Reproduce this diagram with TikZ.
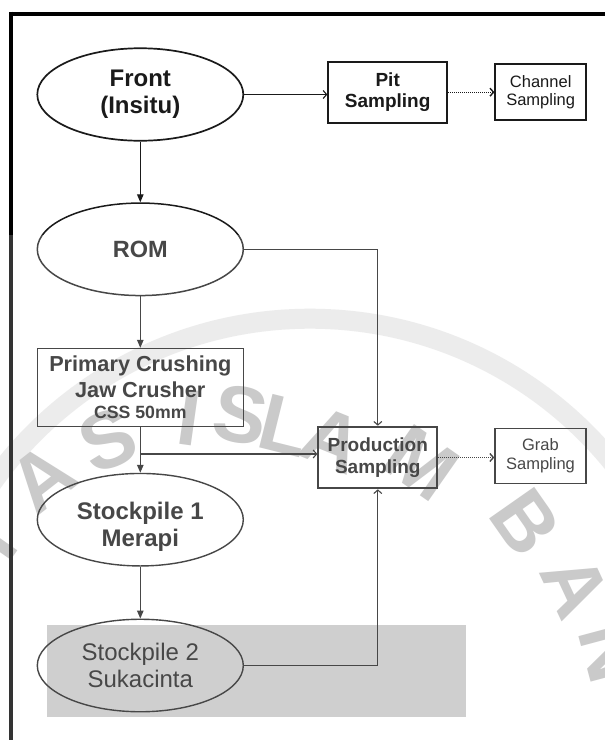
\documentclass[tikz,border=0pt]{standalone}
\usepackage{fontspec}
\setmainfont{Liberation Sans}
\usetikzlibrary{shapes.geometric,arrows.meta}
\definecolor{ink}{HTML}{1A1A1A}
\definecolor{wm}{HTML}{BDBDBD}
\definecolor{wmband}{HTML}{E8E8E8}
\definecolor{panel}{HTML}{C4C4C4}
\begin{document}
\begin{tikzpicture}[x=1pt,y=-1pt,
  oval/.style={ellipse, draw=ink, line width=1.5pt, minimum width=206pt, minimum height=92.5pt, inner sep=0pt, align=center, text=ink},
  box/.style={rectangle, draw=ink, line width=1.6pt, inner sep=0pt, align=center, text=ink},
  bigb/.style={font=\bfseries\fontsize{24}{27}\selectfont},
  midb/.style={font=\bfseries\fontsize{19}{21.7}\selectfont},
  smallr/.style={font=\fontsize{16.5}{18.7}\selectfont},
  flow/.style={draw=ink, line width=1.2pt, -{Triangle[length=8pt,width=6.5pt]}},
  feed/.style={draw=ink, line width=1.1pt, -{Straight Barb[length=3.5pt,width=8pt]}},
  dots/.style={draw=ink, line width=1.4pt, dash pattern=on 1pt off 1pt, -{Straight Barb[length=3.5pt,width=8pt]}},
  wmark/.style={text=wm, font=\bfseries\fontsize{80}{80}\selectfont, inner sep=0pt}
]
\fill[white] (0,0) rectangle (605,740);
\useasboundingbox (0,0) rectangle (605,740);

% watermark
\begin{scope}
\clip (0,0) rectangle (605,740);
\draw[wmband, line width=20pt] (310,708.7) circle[radius=390pt];
\node[wmark, rotate=55] (wt) at (-8,540) {T};
\node[wmark, rotate=38] (wa1) at (42,478) {A};
\node[wmark, rotate=22] (ws1) at (108,440) {S};
\node[wmark, rotate=-8] (wi) at (189,418) {I};
\node[wmark, rotate=-10] (ws2) at (241,415) {S};
\node[wmark, rotate=-14] (wl) at (285,426) {L};
\node[wmark, rotate=-22] (wa2) at (333,440) {A};
\node[wmark, rotate=-35] (wmm) at (422,463) {M};
\node[wmark, rotate=-55] (wb) at (526,522) {B};
\node[wmark, rotate=-65] (wa3) at (576,586) {A};
\node[wmark, rotate=-75] (wn) at (612,652) {N};
\end{scope}

% grey panel behind Stockpile 2
\fill[panel] (46.7,625) rectangle (465.7,716.7);

% frame
\draw[black, line width=4pt] (9,13.7) -- (605,13.7);
\draw[black, line width=4pt] (11.2,11.7) -- (11.2,740);

% nodes
\node[oval, bigb, line width=1.7pt] (front) at (140.3,94.5) {Front\\(Insitu)};
\node[box, midb, line width=2pt, minimum width=118.7pt, minimum height=61pt] (pit) at (387.7,92.2) {Pit\\Sampling};
\node[box, smallr, line width=1.8pt, minimum width=90.7pt, minimum height=55.7pt] (channel) at (540.7,92.2) {Channel\\Sampling};
\node[oval, font=\bfseries\fontsize{23.5}{27}\selectfont] (rom) at (140.3,249.3) {ROM};
\node[box, line width=1.1pt, minimum width=206pt, minimum height=78.3pt, font=\bfseries\fontsize{21.7}{26}\selectfont] (primary) at (140.3,387.5) {Primary Crushing\\Jaw Crusher\\[-5.3pt]{\fontsize{17.7}{20.7}\selectfont CSS 50mm}};
\node[box, midb, line width=1.9pt, minimum width=119pt, minimum height=61.7pt] (prod) at (377.8,457.5) {Production\\Sampling};
\node[box, smallr, line width=1.4pt, minimum width=91pt, minimum height=55pt] (grab) at (540.5,455.8) {Grab\\Sampling};
\node[oval, line width=1.4pt] (sp1) at (140.3,519.7) {};
\node[bigb, text=ink, align=center, inner sep=0pt] (sp1t) at (140.3,526.5) {Stockpile 1\\Merapi};
\node[oval, line width=1.4pt, font=\fontsize{24}{27.3}\selectfont] (sp2) at (140.3,665.5) {Stockpile 2\\Sukacinta};

% connectors
\draw[feed] (front.east) -- (front.east -| pit.west);
\draw[dots] (pit.east) -- (channel.west);
\draw[flow] (front.south) -- (rom.north);
\draw[feed] (rom.east) -| (prod.north);
\draw[flow] (rom.south) -- (primary.north);
\draw[flow] (primary.south) -- (sp1.north);
\coordinate (branch) at (140.3,454);
\draw[feed] (branch) -- (branch -| prod.west);
\draw[flow] (sp1.south) -- (sp2.north);
\draw[feed] (sp2.east) -| (prod.south);
\draw[dots] (prod.east) -- (prod.east -| grab.west);

% lighter lower half of the scan
\fill[white, opacity=0.2] (0,235) rectangle (605,740);
\end{tikzpicture}
\end{document}
